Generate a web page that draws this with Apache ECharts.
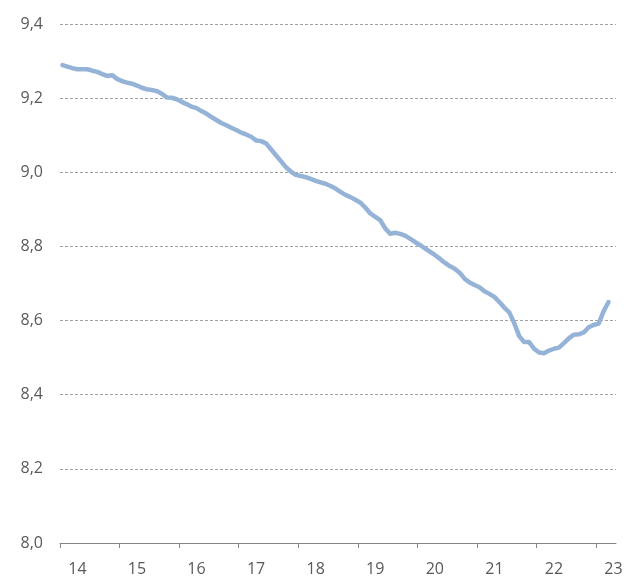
<!DOCTYPE html>
<html lang="en">

<head>
  <meta charset="UTF-8">
  <title>Line Chart</title>
  <script src="https://cdn.jsdelivr.net/npm/echarts@6/dist/echarts.min.js"></script>
  <style>
    html, body { margin: 0; padding: 0; background: #fff; }
  </style>
</head>

<body>
  <div id="chart" style="width: 624px; height: 578px;"></div>

  <script>
    // monthly categories, Oct 2013 .. Jan 2023
    var startYear = 2013, startMonth = 10, monthCount = 112;
    var months = [];
    for (var k = 0; k < monthCount; k++) {
      var m = startMonth - 1 + k;
      var yr = startYear + Math.floor(m / 12);
      var mo = (m % 12) + 1;
      months.push(yr + '-' + (mo < 10 ? '0' + mo : mo));
    }

    // values
    var values = [
      9.289, 9.285, 9.281, 9.278, 9.278, 9.278, 9.274, 9.271, 9.265, 9.260,
      9.262, 9.252, 9.246, 9.242, 9.239, 9.234, 9.228, 9.224, 9.222, 9.219,
      9.212, 9.202, 9.201, 9.197, 9.190, 9.184, 9.177, 9.173, 9.165, 9.158,
      9.149, 9.141, 9.133, 9.127, 9.120, 9.114, 9.107, 9.102, 9.096, 9.086,
      9.084, 9.078, 9.062, 9.046, 9.030, 9.014, 9.002, 8.993, 8.990, 8.987,
      8.982, 8.977, 8.973, 8.969, 8.963, 8.956, 8.947, 8.939, 8.933, 8.926,
      8.918, 8.905, 8.889, 8.880, 8.871, 8.849, 8.834, 8.837, 8.834, 8.829,
      8.821, 8.812, 8.804, 8.795, 8.786, 8.777, 8.767, 8.756, 8.747, 8.740,
      8.729, 8.713, 8.703, 8.696, 8.690, 8.679, 8.672, 8.664, 8.650, 8.635,
      8.622, 8.593, 8.558, 8.542, 8.542, 8.524, 8.514, 8.512, 8.519, 8.524,
      8.527, 8.539, 8.552, 8.562, 8.563, 8.568, 8.582, 8.588, 8.592, 8.625,
      8.650
    ];

    var yMin = 8.0, yMax = 9.4, yStep = 0.2;

    var myChart = echarts.init(document.getElementById('chart'));

    var textStyle = { color: '#595959', fontSize: 16, fontFamily: 'Open Sans' };

    // plot area
    var gLeft = 60, gRight = 8, gTop = 24, gBottom = 35;
    var plotW = 624 - gLeft - gRight;
    // second grid only carries the year tick marks (Oct boundaries, 0..108)
    var tickSpan = Math.floor((monthCount - 1) / 12) * 12;
    var tickRight = 624 - (gLeft + tickSpan * plotW / monthCount);

    myChart.setOption({
      animation: false,
      grid: [
        { left: gLeft, right: gRight, top: gTop, bottom: gBottom, outerBoundsMode: 'none' },
        { left: gLeft, right: tickRight, top: gTop, bottom: gBottom, outerBoundsMode: 'none' }
      ],
      xAxis: [{
        type: 'category',
        gridIndex: 0,
        data: months,
        boundaryGap: true,
        axisLine: { show: true, lineStyle: { color: '#868686', width: 1 } },
        axisTick: { show: false },
        axisLabel: Object.assign({
          interval: function (i) { return i % 12 === 3; },
          formatter: function (v) { return v.slice(2, 4); },
          margin: 18
        }, textStyle),
        splitLine: { show: false }
      }, {
        type: 'value',
        gridIndex: 1,
        min: 0,
        max: tickSpan,
        interval: 12,
        axisLine: { show: false },
        axisTick: { show: true, length: 5, lineStyle: { color: '#868686', width: 1 } },
        axisLabel: { show: false },
        splitLine: { show: false }
      }],
      yAxis: [{
        type: 'value',
        gridIndex: 0,
        min: yMin,
        max: yMax,
        interval: yStep,
        axisLine: { show: false },
        axisTick: { show: false },
        axisLabel: Object.assign({
          margin: 17,
          formatter: function (v) { return v.toFixed(1).replace('.', ','); }
        }, textStyle),
        splitLine: { show: true, lineStyle: { color: '#a0a0a0', width: 1, type: [3, 2] } }
      }, {
        type: 'value',
        gridIndex: 1,
        min: 0,
        max: 1,
        show: false
      }],
      series: [{
        type: 'line',
        xAxisIndex: 0,
        yAxisIndex: 0,
        data: values,
        showSymbol: false,
        symbol: 'none',
        lineStyle: { color: '#95b3d7', width: 4.5, cap: 'round', join: 'round' }
      }]
    });
  </script>
</body>

</html>
